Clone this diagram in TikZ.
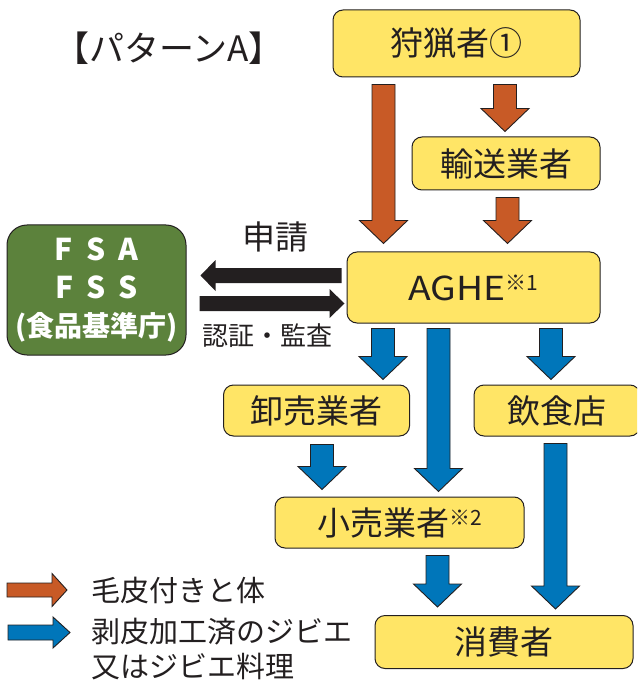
\documentclass[tikz,border=0pt]{standalone}
\usepackage{fontspec}
\setmainfont{Noto Sans CJK JP}
\usetikzlibrary{calc}
\definecolor{boxyellow}{RGB}{255,229,102}
\definecolor{arrorange}{RGB}{200,90,38}
\definecolor{arrblue}{RGB}{0,118,186}
\definecolor{fsagreen}{RGB}{92,130,60}
\definecolor{txt}{RGB}{35,31,32}
\tikzset{
  box/.style={draw=txt, line width=1pt, fill=boxyellow, rounded corners=10pt,
    inner sep=0pt, text=txt, font=\fontsize{33}{36}\selectfont},
  blockline/.style={draw=txt, line width=0.9pt, line join=miter},
  blackblock/.style={draw=none, fill=txt},
  lbl/.style={text=txt, inner sep=0pt},
}
% vertical down block arrow: x from #2, tip y from #3
\newcommand\vblock[3]{%
  \path #2 coordinate (va) #3 coordinate (vb);
  \draw[blockline, fill=#1] let \p1=(va), \p2=(vb) in
    ({\x1-11.5pt},\y1) -- ({\x1-11.5pt},{\y2+23pt}) -- ({\x1-24pt},{\y2+23pt}) --
    (\x1,\y2) -- ({\x1+24pt},{\y2+23pt}) -- ({\x1+11.5pt},{\y2+23pt}) --
    ({\x1+11.5pt},\y1) -- cycle;}
% horizontal block arrow: y from #2, tip x from #3; #4 shaft half, #5 head half, #6 signed head length
\newcommand\hblock[6]{%
  \path #2 coordinate (ha) #3 coordinate (hb);
  \draw[#1] let \p1=(ha), \p2=(hb) in
    (\x1,{\y1+#4}) -- ({\x2-(#6)},{\y1+#4}) -- ({\x2-(#6)},{\y1+#5}) --
    (\x2,\y1) -- ({\x2-(#6)},{\y1-#5}) -- ({\x2-(#6)},{\y1-#4}) --
    (\x1,{\y1-#4}) -- cycle;}
\newcommand\supmark[1]{\raisebox{10pt}{\fontsize{21}{22}\selectfont #1}}
\begin{document}
\begin{tikzpicture}[x=1pt,y=-1pt]
\useasboundingbox (0,0) rectangle (637,684);
\clip (0,0) rectangle (637,684);

% title
\node[lbl, font=\fontsize{35}{38}\selectfont] (title) at (169,48) {【パターンA】};

% boxes
\node[box, minimum width=247pt, minimum height=67pt] (hunter) at (456.5,43.5) {\raisebox{-4pt}{狩猟者①}};
\node[box, minimum width=188pt, minimum height=53pt] (trans) at (506,163.5) {輸送業者};
\node[box, minimum width=253pt, minimum height=71pt] (aghe) at (473.5,287.5)
  {\scalebox{1.13}[1]{AGHE}\supmark{※1}};
\node[draw=txt, line width=1pt, fill=fsagreen, rounded corners=20pt, minimum width=179pt,
  minimum height=130pt, inner sep=0pt, text=white, align=center,
  font=\bfseries\fontsize{30}{38}\selectfont] (fsa) at (96.5,290)
  {F\hspace{13pt}S\hspace{13pt}A\\F\hspace{13pt}S\hspace{13pt}S\\{\fontsize{28}{38}\selectfont(食品基準庁)}};
\node[box, minimum width=186pt, minimum height=51pt] (whole) at (316.5,410.5) {卸売業者};
\node[box, minimum width=166pt, minimum height=51pt] (rest) at (557,410.5) {飲食店};
\node[box, minimum width=249pt, minimum height=51pt] (retail) at (399.5,522.5)
  {小売業者\supmark{※2}};
\node[box, minimum width=258pt, minimum height=53pt] (cons) at (504,642) {消費者};

% orange arrows
\vblock{arrorange}{([xshift=-73pt,yshift=-7pt]hunter.south)}{([yshift=8pt]aghe.north)}
\vblock{arrorange}{([xshift=48.5pt,yshift=-7pt]hunter.south)}{([yshift=5pt]trans.north)}
\vblock{arrorange}{([xshift=1.5pt,yshift=-7pt]trans.south)}{([yshift=8pt]aghe.north)}

% blue arrows
\vblock{arrblue}{([xshift=-90.5pt,yshift=-5pt]aghe.south)}{([yshift=5pt]whole.north)}
\vblock{arrblue}{([xshift=-35pt,yshift=-5pt]aghe.south)}{([yshift=5pt]retail.north)}
\vblock{arrblue}{([xshift=77.5pt,yshift=-5pt]aghe.south)}{([yshift=5pt]rest.north)}
\vblock{arrblue}{([xshift=5.5pt,yshift=-8pt]whole.south)}{([yshift=7pt]retail.north)}
\vblock{arrblue}{([xshift=-1.5pt,yshift=-7pt]rest.south)}{([yshift=6pt]cons.north)}
\vblock{arrblue}{([xshift=38pt,yshift=-7pt]retail.south)}{([yshift=8pt]cons.north)}

% black arrows between AGHE and FSA
\hblock{blackblock}{([xshift=-5pt,yshift=12pt]aghe.west)}{([xshift=14pt]fsa.east)}{7.5pt}{15.5pt}{-15pt}
\hblock{blackblock}{([xshift=13pt,yshift=-13.5pt]fsa.east)}{([xshift=-2pt]aghe.west)}{7.5pt}{14.5pt}{15pt}
\node[lbl, font=\fontsize{33}{36}\selectfont] (req) at (275,237) {申請};
\node[lbl, font=\fontsize{26}{30}\selectfont] (cert) at (267.5,336) {認証・監査};

% legend
\coordinate (lgos) at (7,590);
\coordinate (lgoe) at (67,590);
\coordinate (lgbs) at (8,632.5);
\coordinate (lgbe) at (70,632.5);
\hblock{blockline, fill=arrorange}{(lgos)}{(lgoe)}{7pt}{16.5pt}{15pt}
\hblock{blockline, fill=arrblue}{(lgbs)}{(lgbe)}{7.5pt}{15.5pt}{17pt}
\node[lbl, anchor=west, font=\fontsize{29}{32}\selectfont] (lg1) at (91,590) {毛皮付きと体};
\node[lbl, anchor=west, font=\fontsize{29}{32}\selectfont] (lg2) at (91,632) {剥皮加工済のジビエ};
\node[lbl, anchor=west, font=\fontsize{29}{32}\selectfont] (lg3) at (91,667) {又はジビエ料理};
\end{tikzpicture}
\end{document}
